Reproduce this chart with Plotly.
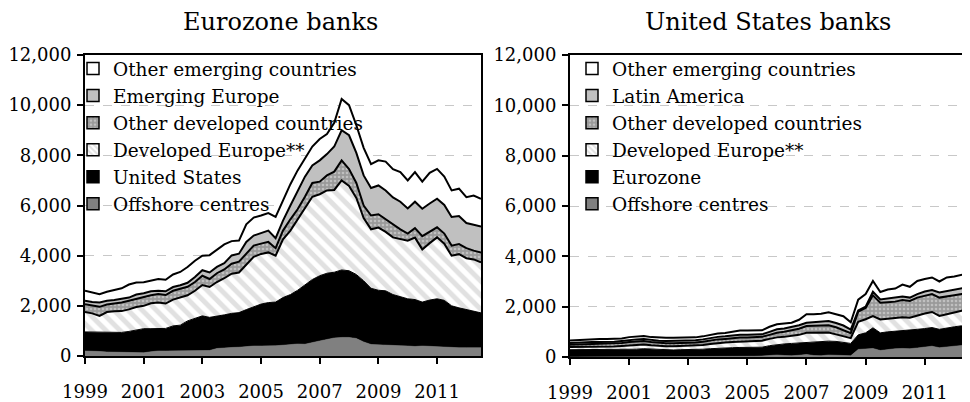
"""Cross-border claims of Eurozone and US banks, by counterparty region (USD bn)."""
import pandas as pd
import plotly.graph_objects as go

# quarterly observations, 1999Q1 .. 2012Q3
quarters = pd.date_range('1999-01-01', periods=55, freq='QS')

# ─── Eurozone banks ─────────────────────────────────────────────────────────────
ez_offshore = [200, 200, 180, 160, 160, 150, 140, 130, 130, 170, 200, 200, 200, 200, 200,
               200, 200, 220, 300, 330, 340, 350, 380, 400, 400, 400, 410, 430, 460, 480,
               470, 520, 600, 660, 720, 740, 740, 700, 560, 460, 440, 420, 420, 410, 400,
               380, 400, 380, 380, 370, 340, 330, 330, 330, 330]
ez_united_states = [760, 755, 770, 790, 790, 790, 840, 920, 960, 920, 890, 900, 1000, 1030, 1200,
                    1300, 1400, 1320, 1280, 1310, 1360, 1380, 1470, 1550, 1670, 1730, 1740, 1900, 1990, 2140,
                    2380, 2530, 2600, 2640, 2620, 2690, 2660, 2550, 2440, 2240, 2180, 2180, 2030, 1940, 1880,
                    1870, 1750, 1850, 1900, 1850, 1660, 1590, 1520, 1470, 1390]
ez_developed_europe = [790, 745, 650, 800, 830, 850, 880, 900, 910, 1010, 1040, 990, 1050, 1120, 1020,
                       1100, 1230, 1210, 1370, 1460, 1580, 1600, 1800, 2000, 2000, 2000, 1850, 2320, 2550, 2830,
                       3050, 3300, 3250, 3300, 3280, 3570, 3380, 3050, 2500, 2350, 2500, 2350, 2280, 2300, 2320,
                       2470, 2100, 2270, 2450, 2260, 2000, 2140, 2050, 2050, 2010]
ez_other_developed = [310, 300, 360, 300, 300, 340, 340, 330, 340, 320, 340, 340, 350, 330, 340,
                      350, 370, 320, 350, 350, 400, 430, 450, 450, 410, 420, 300, 350, 450, 400,
                      450, 550, 500, 600, 730, 800, 670, 600, 500, 550, 530, 500, 520, 400, 280,
                      380, 530, 450, 400, 400, 400, 400, 400, 350, 400]
ez_emerging_europe = [140, 150, 170, 150, 150, 140, 130, 170, 160, 160, 130, 150, 150, 140, 160,
                      200, 220, 260, 250, 250, 330, 320, 450, 400, 420, 450, 400, 400, 550, 750,
                      800, 700, 850, 850, 1000, 1200, 1350, 1200, 1200, 1100, 1150, 1150, 1070, 1100, 1000,
                      1050, 1090, 1130, 1140, 1140, 1140, 1120, 1000, 1030, 1030]
ez_other_emerging = [400, 370, 330, 360, 390, 430, 520, 480, 440, 440, 470, 460, 500, 530, 630,
                     650, 580, 690, 700, 750, 570, 520, 700, 720, 700, 700, 850, 800, 850, 800,
                     750, 750, 850, 800, 950, 1250, 1200, 1100, 1100, 950, 1000, 1150, 1130, 1180, 1120,
                     1180, 1080, 1220, 1190, 1130, 1060, 1090, 1030, 1170, 1110]

# ─── United States banks ────────────────────────────────────────────────────────
us_offshore = [0, 0, 0, 0, 0, 0, 0, 0, 0, 0, 0, 0, 0, 0, 0,
               0, 0, 0, 0, 0, 0, 0, 0, 0, 20, 30, 40, 60, 80, 60,
               50, 70, 100, 60, 50, 80, 80, 60, 50, 300, 330, 340, 260, 300, 330,
               340, 330, 360, 400, 430, 370, 400, 430, 460, 490]
us_eurozone = [290, 290, 290, 290, 290, 290, 290, 300, 310, 310, 330, 310, 300, 290, 280,
               290, 290, 300, 310, 330, 350, 360, 370, 380, 360, 350, 350, 390, 420, 460,
               490, 490, 490, 540, 560, 550, 540, 520, 490, 580, 630, 820, 700, 700, 690,
               710, 730, 740, 730, 740, 730, 760, 770, 780, 800]
us_developed_europe = [110, 110, 120, 120, 120, 120, 130, 140, 160, 170, 170, 160, 140, 140, 150,
                       150, 150, 150, 170, 190, 210, 220, 230, 240, 240, 250, 260, 270, 280, 280,
                       300, 320, 370, 360, 350, 340, 280, 240, 210, 520, 540, 470, 530, 520, 520,
                       530, 500, 560, 600, 620, 530, 540, 580, 600, 600]
us_other_developed = [90, 100, 100, 110, 110, 110, 110, 120, 130, 140, 140, 130, 120, 120, 120,
                      120, 120, 130, 130, 140, 140, 140, 150, 150, 150, 150, 150, 160, 180, 200,
                      210, 240, 270, 280, 280, 290, 280, 260, 200, 400, 450, 820, 670, 660, 660,
                      680, 670, 700, 700, 710, 730, 720, 670, 660, 640]
us_latin_america = [70, 80, 80, 80, 80, 80, 80, 80, 80, 80, 80, 80, 90, 90, 90,
                    90, 90, 90, 90, 100, 100, 100, 100, 110, 110, 110, 100, 120, 140, 130,
                    130, 140, 130, 140, 160, 170, 170, 170, 140, 50, 50, 140, 130, 140, 150,
                    140, 130, 140, 170, 160, 200, 200, 240, 240, 260]
us_other_emerging = [100, 100, 110, 110, 120, 120, 110, 100, 110, 100, 110, 110, 110, 120, 120,
                     110, 110, 110, 120, 120, 130, 130, 140, 170, 170, 160, 160, 200, 200, 200,
                     180, 220, 340, 320, 320, 350, 350, 370, 290, 430, 500, 430, 290, 360, 370,
                     480, 430, 520, 500, 500, 440, 540, 510, 530, 540]

year_ticks = ['1999', '2001', '2003', '2005', '2007', '2009', '2011']

FONT = 'DejaVu Serif'
OUTLINE = dict(color='black', width=2)

# the page body adds an 8px margin, so the figure is drawn 8px smaller
W, H = 962, 394

# fill styles, bottom layer first
STYLES = {
    'offshore': dict(fillcolor='#808080', line=dict(color='#808080', width=0.5)),
    'black': dict(fillcolor='black', line=dict(color='black', width=1)),
    'hatch': dict(fillcolor='white', line=OUTLINE,
                  fillpattern=dict(shape='\\', fgcolor='#c4c4c4', bgcolor='white',
                                   size=10, solidity=0.5)),
    'dots': dict(fillcolor='#a0a0a0', line=OUTLINE,
                 fillpattern=dict(shape='.', fgcolor='#e6e6e6', bgcolor='#9a9a9a',
                                  size=4, solidity=0.35)),
    'grey': dict(fillcolor='#c0c0c0', line=OUTLINE),
    'white': dict(fillcolor='white', line=OUTLINE),
}

PANELS = [
    ('x', 'y', 'legend', 'ez', [
        ('Offshore centres', ez_offshore, 'offshore'),
        ('United States', ez_united_states, 'black'),
        ('Developed Europe**', ez_developed_europe, 'hatch'),
        ('Other developed countries', ez_other_developed, 'dots'),
        ('Emerging Europe', ez_emerging_europe, 'grey'),
        ('Other emerging countries', ez_other_emerging, 'white'),
    ]),
    ('x2', 'y2', 'legend2', 'us', [
        ('Offshore centres', us_offshore, 'offshore'),
        ('Eurozone', us_eurozone, 'black'),
        ('Developed Europe**', us_developed_europe, 'hatch'),
        ('Other developed countries', us_other_developed, 'dots'),
        ('Latin America', us_latin_america, 'grey'),
        ('Other emerging countries', us_other_emerging, 'white'),
    ]),
]


def _legend_marker(style: str) -> dict:
    st = STYLES[style]
    marker = dict(color=st['fillcolor'], line=dict(color='black', width=1.5))
    if 'fillpattern' in st:
        p = st['fillpattern']
        marker['pattern'] = dict(shape=p['shape'], fgcolor=p['fgcolor'], bgcolor=p['bgcolor'],
                                 size=5, solidity=p['solidity'])
    return marker


fig = go.Figure()

for xa, ya, leg, group, layers in PANELS:
    for name, values, style in layers:
        fig.add_trace(go.Scatter(
            x=quarters, y=values, xaxis=xa, yaxis=ya,
            mode='lines', stackgroup=group, name=name,
            showlegend=False, hoverinfo='skip',
            **STYLES[style],
        ))
    # square legend swatches, top layer listed first
    for rank, (name, values, style) in enumerate(reversed(layers)):
        fig.add_trace(go.Bar(
            x=[None], y=[None], xaxis=xa, yaxis=ya,
            name=name, legend=leg, legendgroup=f'{group}{rank}',
            marker=_legend_marker(style),
        ))

axis_font = dict(family=FONT, size=18, color='black')
xaxis_common = dict(
    type='date', range=['1999-01-01', '2012-07-01'], automargin=False,
    tickvals=[f'{y}-01-01' for y in year_ticks], ticktext=year_ticks,
    ticks='outside', ticklen=6, tickcolor='black', tickwidth=1.5,
    showline=True, linecolor='black', linewidth=2, mirror=True,
    showgrid=False, zeroline=False, tickfont=axis_font, ticklabelstandoff=12,
)
yaxis_common = dict(
    range=[0, 12000], tickvals=list(range(0, 12001, 2000)), automargin=False,
    tickformat=',d', ticks='outside', ticklen=6, tickcolor='black', tickwidth=1.5,
    showline=True, linecolor='black', linewidth=2, mirror=True,
    showgrid=True, gridcolor='#c8c8c8', griddash='dash', gridwidth=1,
    zeroline=False, tickfont=axis_font, ticklabelstandoff=2,
)

legend_common = dict(
    bgcolor='rgba(0,0,0,0)', borderwidth=0,
    font=dict(family=FONT, size=18.5, color='black'),
    traceorder='grouped', tracegroupgap=0,
    itemwidth=30, xanchor='left', yanchor='top',
)

fig.update_layout(
    width=W, height=H,
    margin=dict(l=0, r=0, t=0, b=0, autoexpand=False),
    paper_bgcolor='white', plot_bgcolor='white',
    barmode='overlay',
    font=dict(family=FONT, color='black'),
    xaxis=dict(domain=[77 / W, 473 / W], anchor='y', **xaxis_common),
    yaxis=dict(domain=[46 / H, 347 / H], anchor='x', **yaxis_common),
    xaxis2=dict(domain=[562 / W, 961 / W], anchor='y2', **xaxis_common),
    yaxis2=dict(domain=[45 / H, 347 / H], anchor='x2', **yaxis_common),
    legend=dict(x=65 / W, y=1 - 42 / H, **legend_common),
    legend2=dict(x=564 / W, y=1 - 42 / H, **legend_common),
    annotations=[
        dict(text='Eurozone banks', x=272 / W, y=1 - 14 / H, xref='paper', yref='paper',
             xanchor='center', yanchor='middle', showarrow=False,
             font=dict(family=FONT, size=24, color='black')),
        dict(text='United States banks', x=760 / W, y=1 - 14 / H, xref='paper', yref='paper',
             xanchor='center', yanchor='middle', showarrow=False,
             font=dict(family=FONT, size=24, color='black')),
    ],
    showlegend=True,
)

fig.write_html("out.html")
